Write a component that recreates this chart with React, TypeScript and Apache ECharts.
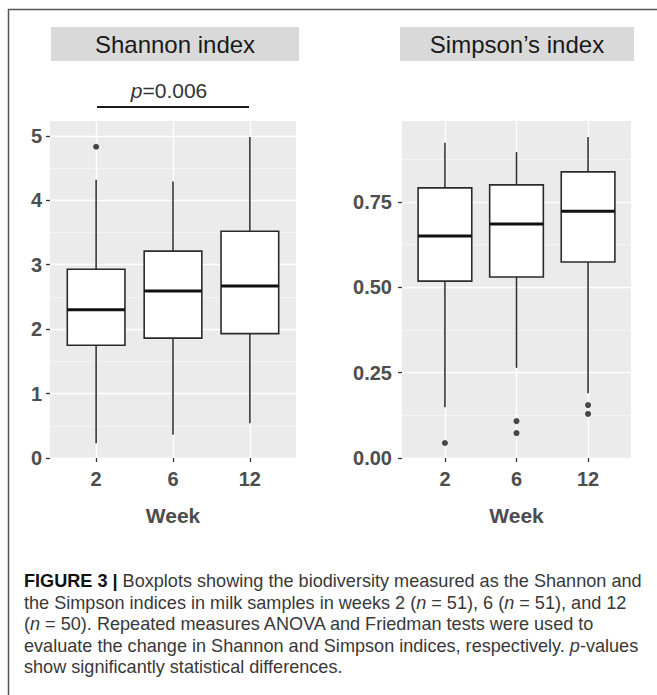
import React, { useEffect, useRef } from "react";
import * as echarts from "echarts";

// ---------- data ----------
const weeks = ["2", "6", "12"];
const weekPositions = [1, 2, 3];
const panelTitles = ["Shannon index", "Simpson\u2019s index"];
const xAxisTitle = "Week";
const pValue = "0.006";

// [lower whisker, Q1, median, Q3, upper whisker] per week
const shannonBoxes = [
  [0.23, 1.75, 2.3, 2.93, 4.32],
  [0.36, 1.86, 2.59, 3.21, 4.29],
  [0.54, 1.93, 2.67, 3.52, 4.98],
];
// [week index, value]
const shannonOutliers = [[0, 4.83]];

const simpsonBoxes = [
  [0.149, 0.518, 0.65, 0.791, 0.923],
  [0.264, 0.53, 0.685, 0.8, 0.896],
  [0.19, 0.574, 0.723, 0.838, 0.94],
];
const simpsonOutliers = [
  [0, 0.044],
  [1, 0.108],
  [1, 0.073],
  [2, 0.155],
  [2, 0.129],
];

const shannonTicks = [0, 1, 2, 3, 4, 5];
const simpsonTicks = [0, 0.25, 0.5, 0.75];
const shannonRange = [0, 5.23];
const simpsonRange = [0, 0.987];

const captionLines = [
  "{b|FIGURE 3 |} Boxplots showing the biodiversity measured as the Shannon and",
  "the Simpson indices in milk samples in weeks 2 ({i|n} = 51), 6 ({i|n} = 51), and 12",
  "({i|n} = 50). Repeated measures ANOVA and Friedman tests were used to",
  "evaluate the change in Shannon and Simpson indices, respectively. {i|p}-values",
  "show significantly statistical differences.",
];

// ---------- styles ----------
const FONT = "'Liberation Sans', Arial, sans-serif";
const PANEL_BG = "#EBEBEB";
const AXIS_TEXT = "#4D4D4D";
const BOX_STROKE = "#2b2b2b";
const CAPTION_SIZE = 18.1;

const panels = [
  { left: 50, width: 246 },
  { left: 402, width: 229 },
];
const PANEL_TOP = 121;
const PANEL_H = 337;

function overlayGrid(p: { left: number; width: number }) {
  const unit = p.width / 3.2;
  return { left: p.left + 0.6 * unit, width: 2 * unit, top: PANEL_TOP, height: PANEL_H };
}

function boxRender(params: any, api: any) {
  const x = api.value(0);
  const lo = api.coord([x, api.value(1)]);
  const q1 = api.coord([x, api.value(2)]);
  const med = api.coord([x, api.value(3)]);
  const q3 = api.coord([x, api.value(4)]);
  const hi = api.coord([x, api.value(5)]);
  const half = api.size([0.75, 0])[0] / 2;
  const cx = med[0];
  return {
    type: "group",
    children: [
      { type: "line", shape: { x1: cx, y1: hi[1], x2: cx, y2: q3[1] }, style: { stroke: BOX_STROKE, lineWidth: 1.5 } },
      { type: "line", shape: { x1: cx, y1: q1[1], x2: cx, y2: lo[1] }, style: { stroke: BOX_STROKE, lineWidth: 1.5 } },
      {
        type: "rect",
        shape: { x: cx - half, y: q3[1], width: half * 2, height: q1[1] - q3[1] },
        style: { fill: "#ffffff", stroke: BOX_STROKE, lineWidth: 1.6 },
      },
      { type: "line", shape: { x1: cx - half, y1: med[1], x2: cx + half, y2: med[1] }, style: { stroke: "#111", lineWidth: 3 } },
    ],
  };
}

function buildOption() {
  const grids: any[] = [];
  const xAxes: any[] = [];
  const yAxes: any[] = [];
  const series: any[] = [];
  const boxesList = [shannonBoxes, simpsonBoxes];
  const outList = [shannonOutliers, simpsonOutliers];
  const ranges = [shannonRange, simpsonRange];
  const ticks = [shannonTicks, simpsonTicks];
  const intervals = [1, 0.25];
  const labelMargins = [8, 10];

  panels.forEach((p, i) => {
    grids.push({ left: p.left, width: p.width, top: PANEL_TOP, height: PANEL_H, show: true, backgroundColor: PANEL_BG, borderWidth: 0 });
    xAxes.push({ gridIndex: i * 2, type: "value", min: 0.4, max: 3.6, show: false });
    yAxes.push({
      gridIndex: i * 2,
      type: "value",
      min: ranges[i][0],
      max: ranges[i][1],
      interval: intervals[i],
      axisLine: { show: false },
      axisTick: { show: true, length: 4, customValues: ticks[i], lineStyle: { color: "#333", width: 1.3 } },
      axisLabel: {
        customValues: ticks[i],
        margin: labelMargins[i],
        color: AXIS_TEXT,
        fontFamily: FONT,
        fontWeight: "bold",
        fontSize: 20,
        formatter: (v: number) => (i === 0 ? String(v) : v.toFixed(2)),
      },
      splitLine: { show: true, lineStyle: { color: "#ffffff", width: 1.4 } },
      minorTick: { show: false, splitNumber: 2 },
      minorSplitLine: { show: true, lineStyle: { color: "#F6F6F6", width: 0.8 } },
    });
    grids.push({ ...overlayGrid(p), show: false });
    xAxes.push({
      gridIndex: i * 2 + 1,
      type: "category",
      data: weeks,
      boundaryGap: false,
      axisLine: { show: false },
      axisTick: { show: true, length: 4, lineStyle: { color: "#333", width: 1.3 } },
      axisLabel: { margin: 11, color: AXIS_TEXT, fontFamily: FONT, fontWeight: "bold", fontSize: 20 },
      splitLine: { show: true, lineStyle: { color: "#ffffff", width: 1.4 } },
      name: xAxisTitle,
      nameLocation: "middle",
      nameGap: 47,
      nameTextStyle: { color: AXIS_TEXT, fontFamily: FONT, fontWeight: "bold", fontSize: 21 },
    });
    yAxes.push({ gridIndex: i * 2 + 1, type: "value", min: ranges[i][0], max: ranges[i][1], show: false });

    series.push({
      type: "custom",
      xAxisIndex: i * 2,
      yAxisIndex: i * 2,
      renderItem: boxRender,
      encode: { x: 0, y: [1, 2, 3, 4, 5] },
      data: boxesList[i].map((b, k) => [weekPositions[k], ...b]),
      z: 3,
    });
    series.push({
      type: "scatter",
      xAxisIndex: i * 2,
      yAxisIndex: i * 2,
      symbol: "circle",
      symbolSize: 6,
      itemStyle: { color: "#1a1a1a" },
      data: outList[i].map(([k, v]) => [weekPositions[k], v]),
      z: 4,
    });
  });

  const graphic: any[] = [
    { type: "line", shape: { x1: 8, y1: 9.5, x2: 657, y2: 9.5 }, style: { stroke: "#555", lineWidth: 1.5 } },
    { type: "line", shape: { x1: 8.5, y1: 9, x2: 8.5, y2: 695 }, style: { stroke: "#555", lineWidth: 1.5 } },
    { type: "rect", shape: { x: 51, y: 27, width: 248, height: 34 }, style: { fill: "#D9D9D9" } },
    { type: "text", x: 175, y: 44.5, style: { text: panelTitles[0], fill: "#1a1a1a", font: `24px ${FONT}`, align: "center", verticalAlign: "middle" } },
    { type: "rect", shape: { x: 400, y: 27, width: 234, height: 34 }, style: { fill: "#D9D9D9" } },
    { type: "text", x: 517, y: 44.5, style: { text: panelTitles[1], fill: "#1a1a1a", font: `24px ${FONT}`, align: "center", verticalAlign: "middle" } },
    {
      type: "text",
      x: 169,
      y: 90,
      style: {
        text: `{i|p}=${pValue}`,
        fill: "#333",
        font: `21px ${FONT}`,
        align: "center",
        verticalAlign: "middle",
        rich: { i: { fontStyle: "italic", fontSize: 21, fontFamily: FONT, fill: "#333" } },
      },
    },
    { type: "line", shape: { x1: 97, y1: 107, x2: 249, y2: 107 }, style: { stroke: "#1a1a1a", lineWidth: 2.2 } },
  ];

  const lineYs = [581, 602.5, 624, 645.5, 667];
  captionLines.forEach((t, k) => {
    graphic.push({
      type: "text",
      x: 24,
      y: lineYs[k],
      style: {
        text: t,
        fill: "#383838",
        font: `${CAPTION_SIZE}px ${FONT}`,
        align: "left",
        verticalAlign: "middle",
        rich: {
          b: { fontWeight: "bold", fontSize: CAPTION_SIZE, fontFamily: FONT, fill: "#111" },
          i: { fontStyle: "italic", fontSize: CAPTION_SIZE, fontFamily: FONT, fill: "#383838" },
        },
      },
    });
  });

  return {
    animation: false,
    backgroundColor: "#ffffff",
    grid: grids,
    xAxis: xAxes,
    yAxis: yAxes,
    series,
    graphic,
  };
}

export default function App() {
  const ref = useRef<HTMLDivElement>(null);
  useEffect(() => {
    if (!ref.current) return;
    const chart = echarts.init(ref.current, undefined, { renderer: "svg" });
    chart.setOption(buildOption() as any);
    return () => chart.dispose();
  }, []);
  return <div ref={ref} style={{ position: "absolute", left: 0, top: 0, width: 657, height: 695 }} />;
}
